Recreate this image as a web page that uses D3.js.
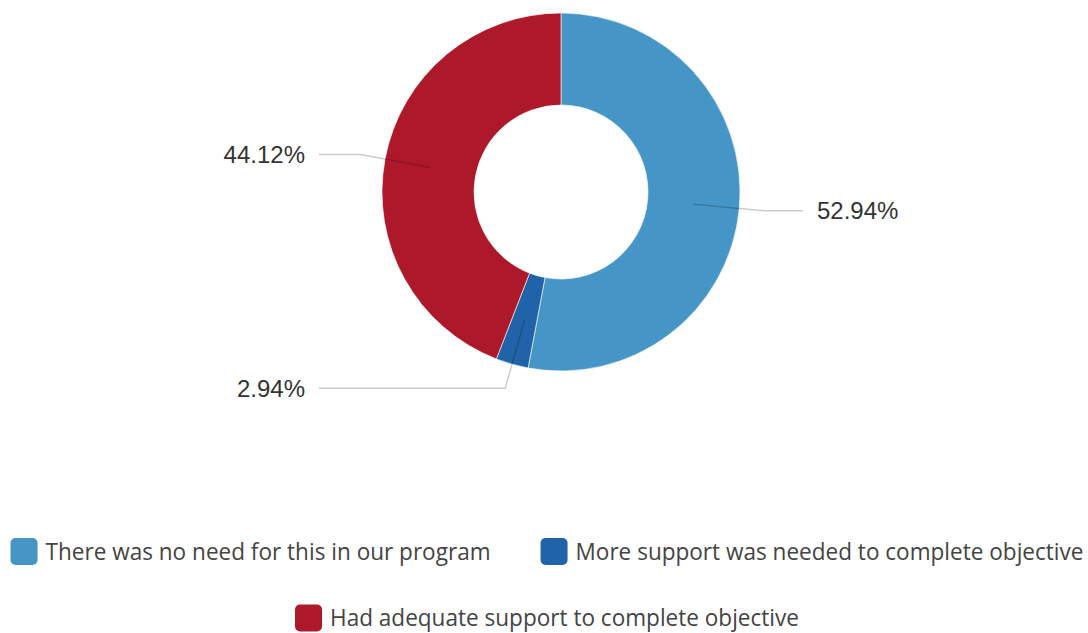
<!DOCTYPE html>
<html>
<head>
<meta charset="utf-8">
<script src="https://cdn.jsdelivr.net/npm/d3@7"></script>
<style>
  html, body { margin: 0; padding: 0; background: #fff; }
  svg { display: block; }
</style>
</head>
<body>
<svg id="chart" width="1088" height="633"></svg>
<script>
// Survey responses, share of respondents (%)
const categories = [
  "There was no need for this in our program",
  "More support was needed to complete objective",
  "Had adequate support to complete objective"
];
const values = [52.94, 2.94, 44.12];
const valueLabels = ["52.94%", "2.94%", "44.12%"];
const colors = ["#4596c6", "#2163a8", "#ae182b"];

const svg = d3.select("#chart");
const cx = 561, cy = 192;
const outerR = 179, innerR = 87;

const pie = d3.pie().sort(null).value(d => d.value);
const arcs = pie(categories.map((c, i) => ({ name: c, value: values[i], label: valueLabels[i] })));
const arc = d3.arc().innerRadius(innerR).outerRadius(outerR);

const g = svg.append("g").attr("transform", `translate(${cx},${cy})`);

g.selectAll("path.slice")
  .data(arcs)
  .join("path")
  .attr("class", "slice")
  .attr("d", arc)
  .attr("fill", (d, i) => colors[i])
  .attr("stroke", "#fff")
  .attr("stroke-width", 0.6);

// Leader lines: from mid-ring, radially out, then horizontal to a label column
const midR = (innerR + outerR) / 2;
const elbowR = 204;
const lineEnd = 242;
const textOff = 256;
const pt = (a, r) => [r * Math.sin(a), -r * Math.cos(a)];
const mid = d => (d.startAngle + d.endAngle) / 2;
const side = d => Math.sin(mid(d)) >= 0 ? 1 : -1;

g.selectAll("polyline.leader")
  .data(arcs)
  .join("polyline")
  .attr("class", "leader")
  .attr("fill", "none")
  .attr("stroke", "rgba(0,0,0,0.2)")
  .attr("stroke-width", 1.5)
  .attr("points", d => {
    const p1 = pt(mid(d), midR), p2 = pt(mid(d), elbowR);
    return [p1, p2, [side(d) * lineEnd, p2[1]]].map(p => p.join(",")).join(" ");
  });

g.selectAll("text.value")
  .data(arcs)
  .join("text")
  .attr("class", "value")
  .attr("x", d => side(d) * textOff)
  .attr("y", d => pt(mid(d), elbowR)[1])
  .attr("dy", "0.36em")
  .attr("text-anchor", d => side(d) > 0 ? "start" : "end")
  .style("font-family", "'Liberation Sans', Arial, sans-serif")
  .style("font-size", "24px")
  .attr("fill", "#333")
  .text(d => d.data.label);

// Legend, centred rows
const legendFont = "'Open Sans', sans-serif";
const legendSize = 24;
const squeeze = 0.94;
const sw = 27, gap = 8, itemGap = 50;
const rows = [[0, 1], [2]];
const rowY = [551.5, 618];
const centerX = 547;

const legend = svg.append("g");
rows.forEach((row, ri) => {
  const rg = legend.append("g");
  let x = 0;
  row.forEach((idx, k) => {
    const item = rg.append("g").attr("transform", `translate(${x},0)`);
    item.append("rect")
      .attr("x", 0).attr("y", -sw / 2)
      .attr("width", sw).attr("height", sw)
      .attr("rx", 5)
      .attr("fill", colors[idx]);
    const t = item.append("text")
      .attr("transform", `translate(${sw + gap},0) scale(${squeeze},1)`)
      .attr("dy", "0.35em")
      .style("font-family", legendFont)
      .style("font-size", legendSize + "px")
      .attr("fill", "#444")
      .text(categories[idx]);
    x += sw + gap + t.node().getComputedTextLength() * squeeze;
    if (k < row.length - 1) x += itemGap;
  });
  rg.attr("transform", `translate(${centerX - x / 2},${rowY[ri]})`);
});
</script>
</body>
</html>
